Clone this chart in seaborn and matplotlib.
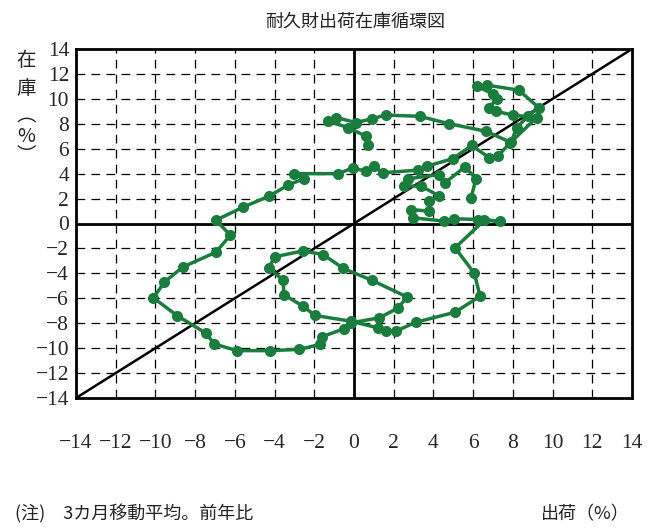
import pandas as pd
import matplotlib
matplotlib.use("Agg")
import matplotlib.pyplot as plt
import seaborn as sns

# 出荷・在庫（前年比, 3カ月移動平均）— 読み取り値
shipments = [
    0.7, 0.6, -0.3, -1.3, -0.9, 0.1, 0.9, 1.6, 3.3, 4.8, 6.65,
    7.9, 8.2, 8.75, 9.3, 8.3, 6.7, 6.2, 7.0, 7.2, 6.8, 7.15, 8.0, 9.2,
    7.85, 7.24, 6.82, 5.93, 4.97, 3.68, 3.2, 1.44, 1.0, 0.6, -0.07, -0.8,
    -3.0, -2.5, -3.3, -4.27, -5.6, -6.95, -6.23, -6.95, -8.63, -9.55, -10.1,
    -8.9, -7.46, -7.04, -5.9, -4.23, -2.76, -1.71, -1.63, -0.52, -0.15,
    1.27, 2.23, 2.67, 0.89, -0.54, -1.55, -2.58, -3.98, -4.3, -3.56, -3.54,
    -2.58, -1.96, -0.15, 1.19, 1.61, 2.1, 3.12, 5.09, 6.35, 6.06, 5.09,
    6.57, 7.37, 6.23, 5.05, 4.55, 2.96, 2.87, 3.8, 3.8, 4.3, 3.38, 2.53,
    2.7, 4.3, 4.58, 5.59, 6.15, 5.89,
]
inventory = [
    6.3, 7.0, 7.7, 8.2, 8.5, 8.1, 8.4, 8.7, 8.6, 8.0, 7.4,
    6.5, 7.7, 8.6, 9.3, 10.7, 11.1, 11.0, 10.4, 10.0, 9.3, 9.0, 8.7, 8.5,
    6.45, 5.4, 5.27, 6.26, 5.2, 4.6, 4.28, 4.07, 4.6, 4.2, 4.45, 4.0,
    4.0, 3.6, 3.1, 2.2, 1.3, 0.27, -0.94, -2.3, -3.5, -4.7, -5.97,
    -7.4, -8.8, -9.66, -10.2, -10.2, -10.1, -9.7, -9.1, -8.45, -7.97,
    -7.57, -6.77, -5.89, -4.55, -3.6, -2.49, -2.2, -2.67, -3.56, -4.55, -5.7,
    -6.63, -7.38, -7.84, -8.37, -8.64, -8.64, -7.92, -7.12, -5.83, -4.0, -1.95,
    0.27, 0.19, 0.32, 0.38, 0.19, 0.46, 1.12, 0.99, 1.8, 2.2, 3.0, 3.0,
    3.58, 3.93, 3.26, 4.55, 3.58, 2.06,
]
ticks = list(range(-14, 15, 2))

df = pd.DataFrame({"出荷": shipments, "在庫": inventory})

sns.set_theme(style="white")
plt.rcParams["font.family"] = ["Liberation Serif", "Noto Sans CJK JP", "DejaVu Sans"]

fig = plt.figure(figsize=(6.64, 5.27), dpi=100)
ax = fig.add_axes([76 / 664, 1 - 398 / 527, 556 / 664, 349 / 527])

# 目盛りごとの破線グリッド
for t in ticks[1:-1]:
    if t == 0:
        continue
    ax.axvline(t, color="black", lw=0.9, ls=(0, (7, 5)), zorder=1)
    ax.axhline(t, color="black", lw=0.9, ls=(0, (7, 5)), zorder=1)
ax.axvline(0, color="black", lw=2, zorder=2)
ax.axhline(0, color="black", lw=2, zorder=2)
ax.plot([-14, 14], [-14, 14], color="black", lw=1.8, zorder=2)

sns.lineplot(data=df, x="出荷", y="在庫", sort=False, estimator=None,
             color="#1a7d3e", lw=2.5, marker="o", markersize=8,
             markeredgewidth=0, ax=ax, zorder=3)

ax.set_xlim(-14, 14)
ax.set_ylim(-14, 14)
ax.set_xticks(ticks)
ax.set_yticks(ticks)
ax.tick_params(axis="x", length=0, pad=26, labelsize=15.5)
ax.tick_params(axis="y", length=0, pad=5, labelsize=15.5)
ax.set_xlabel("")
ax.set_ylabel("")
for s in ax.spines.values():
    s.set_color("black")
    s.set_linewidth(2)

cjk = ["Noto Sans CJK JP", "DejaVu Sans"]
fig.text(0.535, 1 - 22 / 527, "耐久財出荷在庫循環図", ha="center", va="center",
         fontsize=13, family=cjk, color="#222222")
for ch, yy in zip(["在", "庫", "︵", "%", "︶"], [60, 88, 116, 136, 156]):
    fig.text(26 / 664, 1 - yy / 527, ch, ha="center", va="center",
             fontsize=14, family=cjk, color="#222222")
fig.text(15 / 664, 1 - 514 / 527, "(注)　3カ月移動平均。前年比", ha="left",
         va="center", fontsize=13, family=cjk, color="#222222")
fig.text(630 / 664, 1 - 514 / 527, "出荷（%）", ha="right", va="center",
         fontsize=13, family=cjk, color="#222222")

fig.savefig("out.png", dpi=100)
